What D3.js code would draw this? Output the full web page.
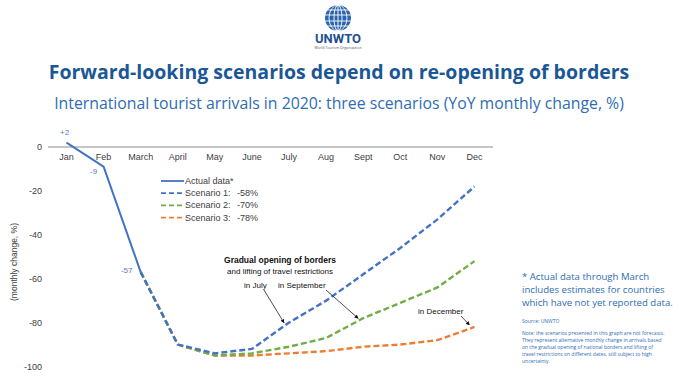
<!DOCTYPE html>
<html>
<head>
<meta charset="utf-8">
<script src="https://cdn.jsdelivr.net/npm/d3@7"></script>
<style>
  body { margin: 0; background: #fff; }
  svg { display: block; }
  .tick-label { font-family: "Liberation Sans", Arial, sans-serif; font-size: 9px; fill: #404040; }
</style>
</head>
<body>
<div id="container"></div>
<script>
/* CONSTANTS AND GLOBALS */
const width = 696,
  height = 377,
  margin = { top: 147, bottom: 10, left: 48, right: 203 },
  colors = { s1: '#4472C4', s2: '#70AD47', s3: '#ED7D31', title: '#1B5796', text: '#2E6DB4' }

/* DATA */
const months = ['Jan', 'Feb', 'March', 'April', 'May', 'June', 'July', 'Aug', 'Sept', 'Oct', 'Nov', 'Dec']
const actualMonths = ['Jan', 'Feb', 'March']
const actualValues = [2, -9, -57]
const actualLabels = ['+2', '-9', '-57']
const scenarioMonths = ['March', 'April', 'May', 'June', 'July', 'Aug', 'Sept', 'Oct', 'Nov', 'Dec']
const scenario1 = [-57, -90, -94, -92, -80, -70, -58, -46, -33, -18]
const scenario2 = [-57, -90, -95, -94, -91, -87, -78, -71, -64, -52]
const scenario3 = [-57, -90, -95, -95, -94, -93, -91, -90, -88, -82]
const scenarioNames = ['Scenario 1:', 'Scenario 2:', 'Scenario 3:']
const scenarioTotals = ['-58%', '-70%', '-78%']
const yTicks = [0, -20, -40, -60, -80, -100]

/* SCALES */
const xScale = d3.scalePoint()
  .domain(months)
  .range([margin.left, width - margin.right])
  .padding(0.5)

const yScale = d3.scaleLinear()
  .domain([-100, 0])
  .range([366.5, margin.top])

/* HTML ELEMENTS */
const svg = d3.select('#container')
  .append('svg')
  .attr('width', width)
  .attr('height', height)

svg.append('defs').append('marker')
  .attr('id', 'arrow')
  .attr('viewBox', '0 0 10 10')
  .attr('refX', 9).attr('refY', 5)
  .attr('markerWidth', 5).attr('markerHeight', 5)
  .attr('orient', 'auto')
  .append('path')
  .attr('d', 'M0,0 L10,5 L0,10 z')
  .attr('fill', '#111')

// logo
const logo = svg.append('g').attr('transform', 'translate(338,18)')
logo.append('circle').attr('r', 13).attr('fill', '#2b63ad')
logo.selectAll('.lat')
  .data([-8, -3, 3, 8])
  .join('line')
  .attr('x1', -14).attr('x2', 14)
  .attr('y1', d => d).attr('y2', d => d)
  .attr('stroke', '#fff').attr('stroke-width', 0.9)
logo.selectAll('.lon')
  .data([4, 9])
  .join('ellipse')
  .attr('rx', d => d).attr('ry', 13)
  .attr('fill', 'none').attr('stroke', '#fff').attr('stroke-width', 0.9)
logo.append('line').attr('x1', 0).attr('x2', 0).attr('y1', -13).attr('y2', 13)
  .attr('stroke', '#fff').attr('stroke-width', 0.9)
svg.append('text')
  .attr('x', 338).attr('y', 43)
  .attr('text-anchor', 'middle')
  .style('font-family', 'Roboto, sans-serif')
  .style('font-weight', 'bold')
  .style('font-size', '13px')
  .attr('fill', '#1d4f93')
  .text('UNWTO')
svg.append('text')
  .attr('x', 338).attr('y', 48.5)
  .attr('text-anchor', 'middle')
  .style('font-family', '"Open Sans", sans-serif')
  .style('font-size', '3.6px')
  .attr('fill', '#555')
  .text('World Tourism Organization')

// titles
svg.append('text')
  .attr('x', 339).attr('y', 79)
  .attr('text-anchor', 'middle')
  .style('font-family', '"Open Sans", sans-serif')
  .style('font-weight', 'bold')
  .style('font-size', '19.5px')
  .attr('fill', colors.title)
  .text('Forward-looking scenarios depend on re-opening of borders')
svg.append('text')
  .attr('x', 339).attr('y', 109)
  .attr('text-anchor', 'middle')
  .style('font-family', '"Open Sans", sans-serif')
  .style('font-size', '15.8px')
  .attr('fill', colors.text)
  .text('International tourist arrivals in 2020: three scenarios (YoY monthly change, %)')

// zero line
svg.append('line')
  .attr('x1', margin.left).attr('x2', width - margin.right)
  .attr('y1', yScale(0)).attr('y2', yScale(0))
  .attr('stroke', '#8c8c8c').attr('stroke-width', 1.2)

// y labels
svg.selectAll('.ylab')
  .data(yTicks)
  .join('text')
  .attr('class', 'tick-label')
  .attr('x', 42)
  .attr('y', d => yScale(d) + 3)
  .attr('text-anchor', 'end')
  .text(d => d)

svg.append('text')
  .attr('class', 'tick-label')
  .attr('transform', 'translate(17,262) rotate(-90)')
  .attr('text-anchor', 'middle')
  .style('font-size', '8.5px')
  .text('(monthly change, %)')

// month labels
svg.selectAll('.xlab')
  .data(months)
  .join('text')
  .attr('class', 'tick-label')
  .attr('x', d => xScale(d))
  .attr('y', yScale(0) + 13)
  .attr('text-anchor', 'middle')
  .text(d => d)

// lines
const line = d3.line()
  .x(d => xScale(d[0]))
  .y(d => yScale(d[1]))

const scenarios = [
  { values: scenario3, color: colors.s3 },
  { values: scenario2, color: colors.s2 },
  { values: scenario1, color: colors.s1 }
]
svg.selectAll('.scenario')
  .data(scenarios)
  .join('path')
  .attr('class', 'scenario')
  .attr('d', d => line(d3.zip(scenarioMonths, d.values)))
  .attr('fill', 'none')
  .attr('stroke', d => d.color)
  .attr('stroke-width', 2.4)
  .attr('stroke-dasharray', '6,3')

svg.append('path')
  .attr('d', line(d3.zip(actualMonths, actualValues)))
  .attr('fill', 'none')
  .attr('stroke', colors.s1)
  .attr('stroke-width', 2)

// data labels
const labelOffsets = [[-2, -8], [-10, 7], [-14, 1]]
svg.selectAll('.dlab')
  .data(actualValues)
  .join('text')
  .attr('x', (d, i) => xScale(actualMonths[i]) + labelOffsets[i][0])
  .attr('y', (d, i) => yScale(d) + labelOffsets[i][1])
  .attr('text-anchor', 'middle')
  .style('font-family', '"Liberation Sans", Arial, sans-serif')
  .style('font-size', '8px')
  .attr('fill', '#5a78b8')
  .text((d, i) => actualLabels[i])

// legend
const legend = svg.append('g').attr('transform', 'translate(160,181)')
const legendRows = [
  { name: 'Actual data*', total: '', color: colors.s1, dash: null },
  { name: scenarioNames[0], total: scenarioTotals[0], color: colors.s1, dash: '5,3' },
  { name: scenarioNames[1], total: scenarioTotals[1], color: colors.s2, dash: '5,3' },
  { name: scenarioNames[2], total: scenarioTotals[2], color: colors.s3, dash: '5,3' }
]
const rows = legend.selectAll('g')
  .data(legendRows)
  .join('g')
  .attr('transform', (d, i) => `translate(0,${i * 12.2})`)
rows.append('line')
  .attr('x1', 1).attr('x2', 24)
  .attr('stroke', d => d.color)
  .attr('stroke-width', 1.8)
  .attr('stroke-dasharray', d => d.dash)
rows.append('text')
  .attr('class', 'tick-label')
  .attr('x', 25).attr('y', 3)
  .text(d => d.name)
rows.append('text')
  .attr('class', 'tick-label')
  .attr('x', 77).attr('y', 3)
  .text(d => d.total)

// annotations
const ann = svg.append('g')
  .style('font-family', '"Liberation Sans", Arial, sans-serif')
  .attr('fill', '#111')
ann.append('text').attr('x', 280).attr('y', 263).attr('text-anchor', 'middle')
  .style('font-size', '8.5px').style('font-weight', 'bold')
  .text('Gradual opening of borders')
ann.append('text').attr('x', 280).attr('y', 273.5).attr('text-anchor', 'middle')
  .style('font-size', '8px')
  .text('and lifting of travel restrictions')
ann.append('text').attr('x', 244).attr('y', 288)
  .style('font-size', '8px')
  .text('in July')
ann.append('text').attr('x', 278).attr('y', 288)
  .style('font-size', '8px')
  .text('in September')
ann.append('text').attr('x', 418).attr('y', 314)
  .style('font-size', '8px')
  .text('in December')

const arrows = [
  [[264, 290], ['July', -81]],
  [[326, 290], ['Sept', -79]],
  [[461, 316], ['Dec', -82]]
]
ann.selectAll('.arrow')
  .data(arrows)
  .join('line')
  .attr('x1', d => d[0][0]).attr('y1', d => d[0][1])
  .attr('x2', d => xScale(d[1][0]) - 5).attr('y2', d => yScale(d[1][1]) - 2)
  .attr('stroke', '#222').attr('stroke-width', 0.8)
  .attr('marker-end', 'url(#arrow)')

// notes on the right
const note = svg.append('g')
  .style('font-family', '"Open Sans", sans-serif')
  .attr('fill', colors.text)
note.selectAll('.big')
  .data(['* Actual data through March', 'includes estimates for countries', 'which have not yet reported data.'])
  .join('text')
  .attr('x', 522)
  .attr('y', (d, i) => 280 + i * 13.1)
  .style('font-size', '9.6px')
  .text(d => d)
note.append('text')
  .attr('x', 522).attr('y', 323)
  .style('font-size', '5px')
  .text('Source: UNWTO')
note.selectAll('.small')
  .data([
    'Note: the scenarios presented in this graph are not forecasts.',
    'They represent alternative monthly change in arrivals based',
    'on the gradual opening of national borders and lifting of',
    'travel restrictions on different dates, still subject to high',
    'uncertainty.'
  ])
  .join('text')
  .attr('x', 522)
  .attr('y', (d, i) => 335 + i * 7)
  .style('font-size', '5px')
  .text(d => d)
</script>
</body>
</html>
